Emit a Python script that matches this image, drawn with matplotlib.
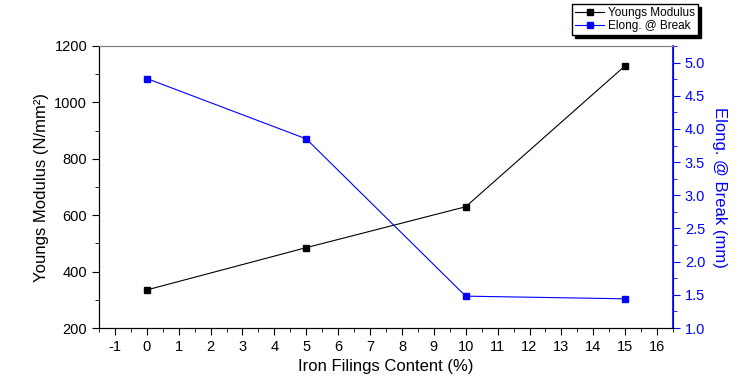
import matplotlib.pyplot as plt
from matplotlib.ticker import MultipleLocator

plt.rcParams['font.family'] = ['Liberation Sans', 'DejaVu Sans']
plt.rcParams['axes.unicode_minus'] = False

# 数据
iron_content = [0, 5, 10, 15]
youngs_modulus = [335, 485, 630, 1130]
elong_break = [4.76, 3.85, 1.48, 1.44]

fig = plt.figure(figsize=(7.39, 3.79), dpi=100)
ax1 = fig.add_axes([99/739, 1 - 328/379, (673-99)/739, (328-46)/379])

l1, = ax1.plot(iron_content, youngs_modulus, 'k-', marker='s', markersize=5,
               linewidth=0.8, label='Youngs Modulus')
ax1.set_xlim(-1.5, 16.5)
ax1.set_ylim(200, 1200)
ax1.xaxis.set_major_locator(MultipleLocator(1))
ax1.xaxis.set_minor_locator(MultipleLocator(0.5))
ax1.yaxis.set_major_locator(MultipleLocator(200))
ax1.yaxis.set_minor_locator(MultipleLocator(100))
ax1.tick_params(which='both', direction='out', labelsize=10.5, top=False)
ax1.tick_params(which='major', length=5)
ax1.tick_params(which='minor', length=3)
ax1.set_xlabel('Iron Filings Content (%)', fontsize=12)
ax1.set_ylabel('Youngs Modulus (N/mm²)', fontsize=12)
ax1.spines['top'].set_color('gray')

ax2 = ax1.twinx()
l2, = ax2.plot(iron_content, elong_break, 'b-', marker='s', markersize=5,
               linewidth=0.8, label='Elong. @ Break')
ax2.set_ylim(1.0, 5.25)
ax2.yaxis.set_major_locator(MultipleLocator(0.5))
ax2.yaxis.set_minor_locator(MultipleLocator(0.25))
ax2.yaxis.set_major_formatter(plt.FormatStrFormatter('%.1f'))
ax2.tick_params(which='both', direction='out', colors='blue', labelsize=10.5)
ax2.tick_params(which='major', length=5)
ax2.tick_params(which='minor', length=3)
ax2.spines['right'].set_color('blue')
ax2.spines['right'].set_linewidth(1.2)
ax2.spines['top'].set_color('gray')
ax2.set_ylabel('Elong. @ Break (mm)', fontsize=12, color='blue', rotation=270, labelpad=16)

fig.legend(handles=[l1, l2], loc='upper left', bbox_to_anchor=(572/739, 1 - 4/379),
           fontsize=8.5, frameon=True, fancybox=False, shadow={'color': 'black', 'alpha': 1},
           edgecolor='black', borderpad=0.25, labelspacing=0.1, handlelength=2.5,
           handletextpad=0.3, borderaxespad=0)

fig.savefig('out.png', dpi=100)
